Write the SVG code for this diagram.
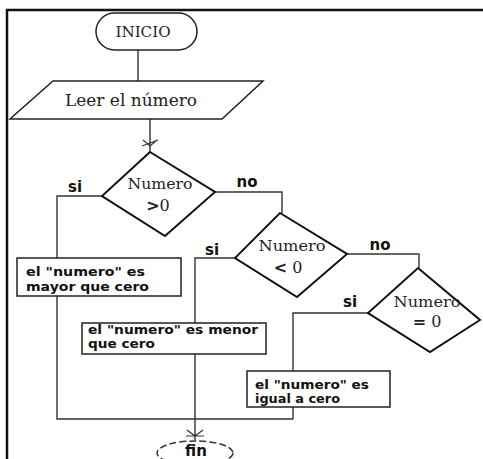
<svg xmlns="http://www.w3.org/2000/svg" width="483" height="459" viewBox="0 0 483 459">
<style>
.frame{fill:none;stroke:#111;stroke-width:2.5}
.conn{fill:none;stroke:#333;stroke-width:1.4}
.tick{fill:none;stroke:#333;stroke-width:1.2}
.shape{fill:#fff;stroke:#222;stroke-width:1.5}
.dia{fill:#fff;stroke:#111;stroke-width:2}
.serif{font-family:"DejaVu Serif","Liberation Serif",serif;fill:#222}
.lbl{font-family:"DejaVu Sans","Liberation Sans",sans-serif;font-weight:bold;fill:#111;font-size:15px}
.box{font-family:"DejaVu Sans","Liberation Sans",sans-serif;font-weight:bold;fill:#111;font-size:12px}
</style>
<rect width="483" height="459" fill="#fff"/>
<path class="frame" d="M7,459 V10 H483"/>
<g id="connectors">
<path class="conn" d="M138,50 V81"/>
<path class="conn" d="M150,119 V152"/>
<path class="tick" d="M143,140 L150,146 L157,140 M142,146 L158,140"/>
<path class="conn" d="M102,196 H57 V258"/>
<path class="conn" d="M57,296 V419 H293"/>
<path class="conn" d="M215,192 H282 V213"/>
<path class="conn" d="M235,258 H195 V323"/>
<path class="conn" d="M195,354 V440"/>
<path class="tick" d="M187,430 L195,436 L203,430 M186,436 H204"/>
<path class="conn" d="M347,254 H419 V268"/>
<path class="conn" d="M368,313 H293 V371"/>
<path class="conn" d="M293,407 V419"/>
<text class="lbl" x="75" y="192" text-anchor="middle">si</text>
<text class="lbl" x="247" y="187" text-anchor="middle">no</text>
<text class="lbl" x="212" y="255" text-anchor="middle">si</text>
<text class="lbl" x="380" y="250" text-anchor="middle">no</text>
<text class="lbl" x="350" y="307" text-anchor="middle">si</text>
</g>
<g id="inicio">
<rect class="shape" x="96" y="13" width="101" height="37" rx="18.5"/>
<text class="serif" x="143" y="37" font-size="14" text-anchor="middle" textLength="55" lengthAdjust="spacingAndGlyphs">INICIO</text>
</g>
<g id="leer">
<polygon class="shape" points="53,81 263,81 222,119 10,119"/>
<text class="serif" x="131" y="106" font-size="17" text-anchor="middle" textLength="132" lengthAdjust="spacingAndGlyphs">Leer el número</text>
</g>
<g id="decision1">
<polygon class="dia" points="150,152 215,192 165,236 102,196"/>
<text class="serif" x="160" y="189" font-size="15" text-anchor="middle" textLength="65" lengthAdjust="spacingAndGlyphs">Numero</text>
<text class="serif" x="158" y="211" font-size="16" text-anchor="middle"><tspan font-weight="bold" font-family="DejaVu Sans, sans-serif">&gt;</tspan>0</text>
</g>
<g id="box1">
<rect class="shape" x="17" y="258" width="164" height="38"/>
<text class="box" x="26" y="276" textLength="119" lengthAdjust="spacingAndGlyphs">el "numero" es</text>
<text class="box" x="26" y="291" textLength="123" lengthAdjust="spacingAndGlyphs">mayor que cero</text>
</g>
<g id="decision2">
<polygon class="dia" points="280,213 347,254 297,297 235,258"/>
<text class="serif" x="292" y="251" font-size="15" text-anchor="middle" textLength="67" lengthAdjust="spacingAndGlyphs">Numero</text>
<text class="serif" x="288" y="273" font-size="16" text-anchor="middle"><tspan font-weight="bold" font-family="DejaVu Sans, sans-serif">&lt;</tspan> 0</text>
</g>
<g id="box2">
<rect class="shape" x="82" y="323" width="184" height="31"/>
<text class="box" x="88" y="334" textLength="170" lengthAdjust="spacingAndGlyphs">el "numero" es menor</text>
<text class="box" x="88" y="348" textLength="67" lengthAdjust="spacingAndGlyphs">que cero</text>
</g>
<g id="decision3">
<polygon class="dia" points="418,268 480,320 430,352 368,313"/>
<text class="serif" x="427" y="307" font-size="15" text-anchor="middle" textLength="67" lengthAdjust="spacingAndGlyphs">Numero</text>
<text class="serif" x="427" y="327" font-size="16" text-anchor="middle"><tspan font-weight="bold" font-family="DejaVu Sans, sans-serif">=</tspan> 0</text>
</g>
<g id="box3">
<rect class="shape" x="247" y="371" width="143" height="36"/>
<text class="box" x="255" y="389" textLength="114" lengthAdjust="spacingAndGlyphs">el "numero" es</text>
<text class="box" x="255" y="403" textLength="85" lengthAdjust="spacingAndGlyphs">igual a cero</text>
</g>
<g id="fin">
<ellipse cx="195" cy="453" rx="38" ry="12" fill="#fff" stroke="#333" stroke-width="1.5" stroke-dasharray="7,3"/>
<text class="lbl" x="196" y="456" font-size="16" text-anchor="middle">fin</text>
</g>
</svg>
